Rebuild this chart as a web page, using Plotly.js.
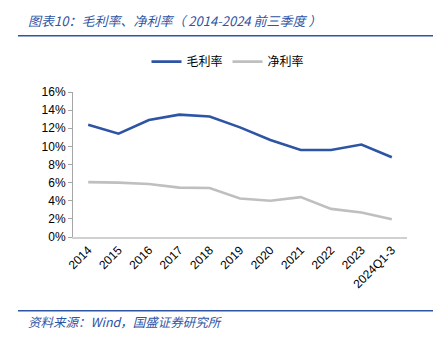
<!DOCTYPE html>
<html><head><meta charset="utf-8">
<script src="https://cdn.plot.ly/plotly-3.0.1.min.js"></script>
<style>html,body{margin:0;padding:0;background:#fff}#c{width:442px;height:342px}</style>
</head><body><div id="c"></div>
<script>
const categories = ["2014","2015","2016","2017","2018","2019","2020","2021","2022","2023","2024Q1-3"];
const grossMargin = [12.4, 11.4, 12.9, 13.5, 13.3, 12.1, 10.7, 9.6, 9.6, 10.2, 8.8];
const netMargin = [6.05, 6.0, 5.85, 5.45, 5.4, 4.25, 4.0, 4.4, 3.1, 2.7, 1.95];
const yTicks = [0,2,4,6,8,10,12,14,16];
const yTickText = yTicks.map(v => v + "%");

const W=442, H=342, L=73, R=35, T=91.5, B=105;
const pw = W-L-R, ph = H-T-B;
const px = X => (X-L)/pw;
const py = Y => (H-B-Y)/ph;
const blue = "#2E54A4", grey = "#BFBFBF", textBlue = "#2E54A4";

const traces = [
  {x: categories, y: grossMargin, name: "毛利率", type: "scatter", mode: "lines",
   line: {color: blue, width: 2.6}},
  {x: categories, y: netMargin, name: "净利率", type: "scatter", mode: "lines",
   line: {color: grey, width: 2.6}}
];
const layout = {
  width: W, height: H,
  margin: {l: L, r: R, t: T, b: B, pad: 0},
  paper_bgcolor: "#fff", plot_bgcolor: "#fff",
  font: {family: "Liberation Sans, Arial, sans-serif", size: 12, color: "#000"},
  showlegend: true,
  legend: {orientation: "h", x: px(228), xanchor: "center", y: py(61), yanchor: "middle",
    font: {family: "Noto Sans CJK SC, sans-serif", size: 12, color: "#000"}, itemwidth: 30, tracegroupgap: 0},
  xaxis: {type: "category", range: [-0.5, 10.5], showgrid: false, zeroline: false,
    showline: true, linecolor: "#D0D0D0", linewidth: 1.5, ticks: "", tickangle: -45,
    tickfont: {size: 12, color: "#000"}, fixedrange: true},
  yaxis: {range: [0, 16], tickvals: yTicks, ticktext: yTickText, showgrid: false, zeroline: false,
    showline: true, linecolor: "#A6A6A6", linewidth: 1, ticks: "outside", ticklen: 4, tickcolor: "#A6A6A6",
    tickfont: {size: 12, color: "#000"}, fixedrange: true},
  shapes: [
    {type: "line", xref: "paper", yref: "paper", x0: px(18), x1: px(433), y0: py(35), y1: py(35),
     line: {color: textBlue, width: 1.5}},
    {type: "line", xref: "paper", yref: "paper", x0: px(18), x1: px(433), y0: py(311), y1: py(311),
     line: {color: textBlue, width: 1.5}}
  ],
  annotations: [
    {xref: "paper", yref: "paper", x: px(26), y: py(20), xanchor: "left", yanchor: "middle", showarrow: false,
     text: "<i>图表10：毛利率、净利率（ 2014-2024 前三季度 ）</i>",
     font: {family: "Noto Sans CJK SC, sans-serif", size: 13, color: textBlue}},
    {xref: "paper", yref: "paper", x: px(26), y: py(322), xanchor: "left", yanchor: "middle", showarrow: false,
     text: "<i>资料来源：Wind，国盛证券研究所</i>",
     font: {family: "Noto Sans CJK SC, sans-serif", size: 12.5, color: textBlue}}
  ]
};
Plotly.newPlot("c", traces, layout, {displayModeBar: false, staticPlot: true});
</script></body></html>
